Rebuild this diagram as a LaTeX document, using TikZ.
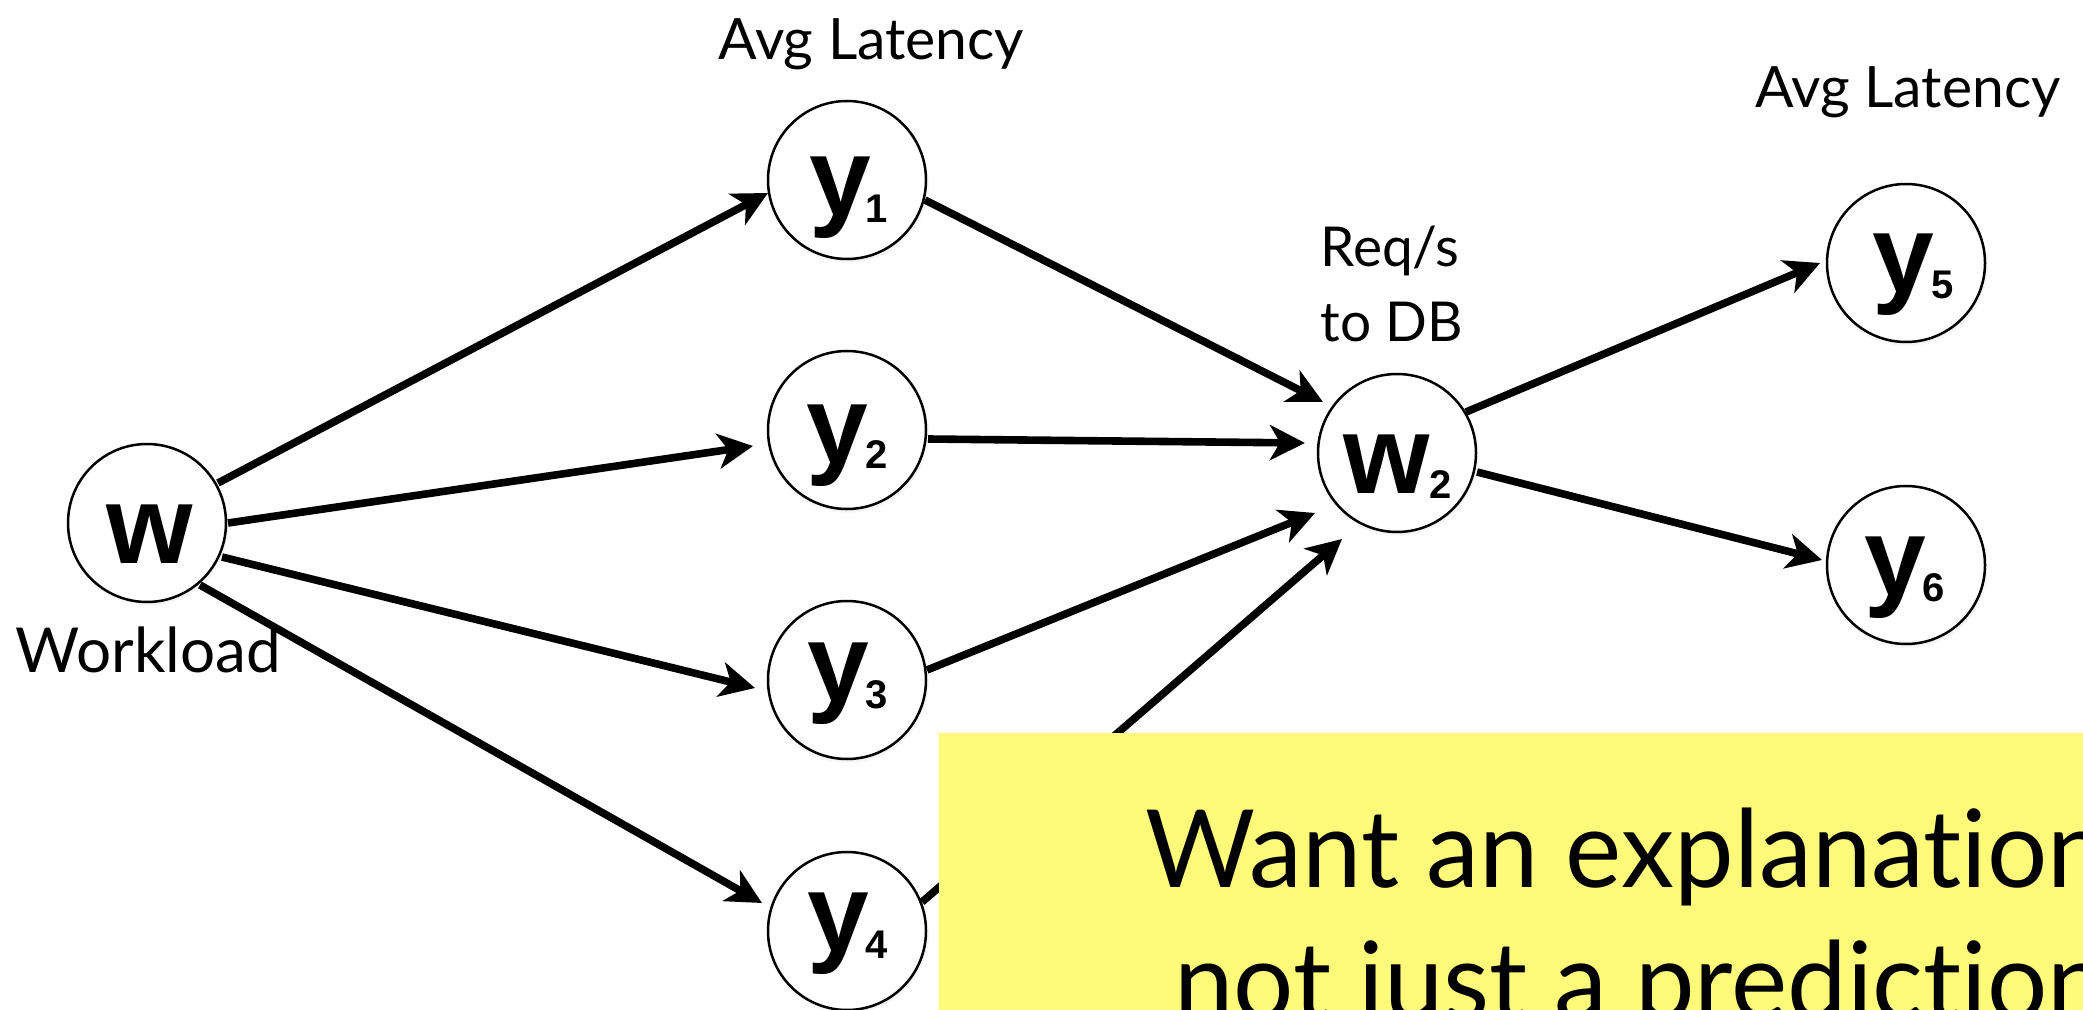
\documentclass[tikz,border=0pt]{standalone}
\usepackage{fontspec}
\setmainfont{Lato}[Ligatures={NoCommon,NoRare}]
\newfontfamily\helv{Liberation Sans}
\usetikzlibrary{arrows.meta,shadows}
\definecolor{noteyellow}{RGB}{255,250,122}
\begin{document}
\begin{tikzpicture}[x=0.5pt,y=-0.5pt,
  vnode/.style={circle, draw=black, line width=1.25pt, fill=white, minimum size=79pt, inner sep=0pt,
    circular drop shadow={shadow xshift=0.4pt, shadow yshift=-1pt, shadow scale=1.03, opacity=0.35}},
  conn/.style={line width=3.8pt, -{Stealth[length=17.5pt,width=17.5pt,inset=5pt]}},
  vlet/.style={inner sep=0pt, anchor=base west, font=\helv\bfseries\fontsize{55.5pt}{60pt}\selectfont},
  vsub/.style={inner sep=0pt, anchor=base west, font=\helv\bfseries\fontsize{20pt}{20pt}\selectfont},
  lbl/.style={inner sep=0pt, font=\fontsize{28.5pt}{34pt}\selectfont},
  lblwide/.style={inner sep=0pt, font=\fontsize{31pt}{36pt}\selectfont},
  lblsmall/.style={inner sep=0pt, anchor=base west, font=\fontsize{27.5pt}{30pt}\selectfont},
  bigtxt/.style={inner sep=0pt, anchor=base west, font=\fontsize{54pt}{60pt}\selectfont},
  notebox/.style={fill=noteyellow, inner sep=0pt, anchor=north west, minimum width=580pt, minimum height=145pt}
]
\clip (0,0) rectangle (2083,1010);
\fill[white] (0,0) rectangle (2083,1010);

% variable nodes
\node[vnode] (w)  at (147,523) {};
\node[vnode] (y1) at (847,180) {};
\node[vnode] (y2) at (847,430) {};
\node[vnode] (y3) at (847,680) {};
\node[vnode] (y4) at (847,931) {};
\node[vnode] (w2) at (1397,453) {};
\node[vnode] (y5) at (1906,263) {};
\node[vnode] (y6) at (1906,565) {};

% letters inside nodes
\node[vlet] (lw)  at (106,563) {w};
\node[vlet] (ly1) at (809,216) {y};
\node[vsub] (sy1) at (865,223) {1};
\node[vlet] (ly2) at (806,464) {y};
\node[vsub] (sy2) at (865,469) {2};
\node[vlet] (ly3) at (807,701) {y};
\node[vsub] (sy3) at (865,708) {3};
\node[vlet] (ly4) at (807,951) {y};
\node[vsub] (sy4) at (865,958) {4};
\node[vlet] (lw2) at (1343,494) {w};
\node[vsub] (sw2) at (1429,499) {2};
\node[vlet] (ly5) at (1872,293) {y};
\node[vsub] (sy5) at (1931,299) {5};
\node[vlet] (ly6) at (1864,595) {y};
\node[vsub] (sy6) at (1922,601) {6};

% text labels
\node[lbl, anchor=base] (lat1) at (871.5,60) {Avg Latency};
\node[lbl, anchor=base] (lat2) at (1908,108) {Avg Latency};
\node[lblwide, anchor=base] (wl) at (148.5,672) {Workload};
\node[lblsmall] (req1) at (1320,267) {Req/s};
\node[lblsmall] (req2) at (1320,342) {to DB};

% connectors
\draw[conn] ([shift={(71,-40)}]w.center) -- ([shift={(-79,13)}]y1.center);
\draw[conn] ([shift={(81,0)}]w.center) -- ([shift={(-94,16)}]y2.center);
\draw[conn] ([shift={(75,34)}]w.center) -- ([shift={(-92,8)}]y3.center);
\draw[conn] ([shift={(53,62)}]w.center) -- ([shift={(-85,-28)}]y4.center);
\draw[conn] ([shift={(78,20)}]y1.center) -- ([shift={(-74,-51)}]w2.center);
\draw[conn] ([shift={(81,9)}]y2.center) -- ([shift={(-92,-10)}]w2.center);
\draw[conn] ([shift={(80,-10)}]y3.center) -- ([shift={(-82,60)}]w2.center);
\draw[conn] ([shift={(75,-29)}]y4.center) -- ([shift={(-55,86)}]w2.center);
\draw[conn] ([shift={(69,-41)}]w2.center) -- ([shift={(-86,0)}]y5.center);
\draw[conn] ([shift={(80,19)}]w2.center) -- ([shift={(-84,-5)}]y6.center);

% yellow note
\node[notebox] (note) at (939,733) {};
\node[bigtxt] (t1) at (1145,887) {\scalebox{0.985}[1]{Want an explanation}};
\node[bigtxt] (t2) at (1174,1019) {\scalebox{0.985}[1]{not just a prediction}};
\end{tikzpicture}
\end{document}
